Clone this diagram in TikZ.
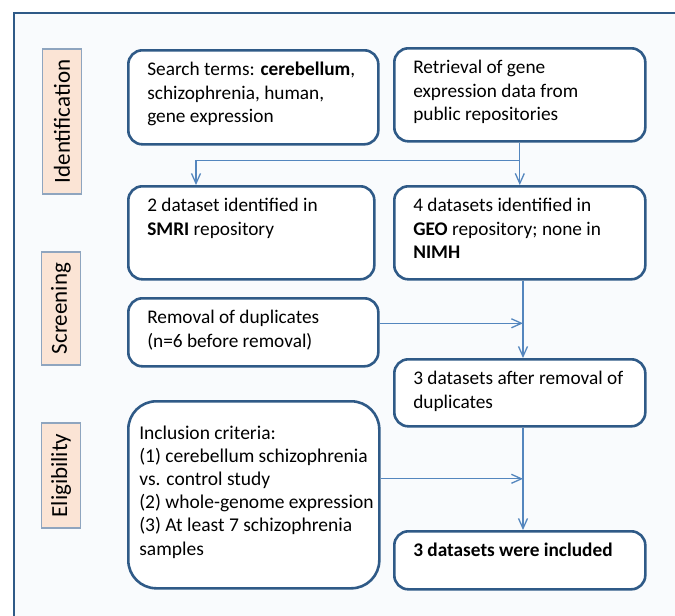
\documentclass[tikz,border=0pt]{standalone}
\usepackage{fontspec}
\setmainfont{Carlito}
\usepackage{tikz}
\usetikzlibrary{arrows.meta,calc,positioning}
\definecolor{boxblue}{RGB}{47,90,135}
\definecolor{linkblue}{RGB}{84,134,190}
\definecolor{tagfill}{RGB}{251,228,213}
\definecolor{tagdraw}{RGB}{143,165,191}
\definecolor{panel}{RGB}{249,251,253}
\newdimen\padx
\newdimen\pady
\padx=19pt
\pady=9pt
\newcommand{\boxtext}[3]{\parbox[t][#2][t]{#1}{\strut#3}}
\tikzstyle{stage}=[
  draw=boxblue,
  fill=white,
  font={\fontsize{19.3}{23.5}\selectfont},
  inner xsep=\padx,
  inner ysep=\pady,
  line width=2.6pt,
  anchor=north west,
  rectangle,
  rounded corners=14pt,
  text=black,
]
\tikzstyle{tag}=[
  draw=tagdraw,
  fill=tagfill,
  font={\fontsize{23}{26}\selectfont},
  inner sep=0pt,
  line width=1.2pt,
  minimum height=39pt,
  rectangle,
  rotate=90,
  text=black,
]
\tikzstyle{link}=[
  color=linkblue,
  line width=1.3pt,
]
\tikzset{
  >={Straight Barb[length=10pt,width=9pt]},
  x=1pt,
  y=-1pt,
}
\begin{document}
\begin{tikzpicture}
      \useasboundingbox (0,0) rectangle (675,616);
      \fill [panel] (14,13) rectangle (675,616);
      \draw [boxblue, line width=2.4pt] (14,616) -- (14,13) -- (675,13);
      % phase tags
      \node (ident) [tag, minimum width=145pt] at (62,121.5) {Identification};
      \node (screen) [tag, minimum width=113pt] at (61,308.5) {Screening};
      \node (elig) [tag, minimum width=105pt] at (61,475.5) {Eligibility};
      % boxes
      \node (search) [stage] at (127,49) {\boxtext{212pt}{76pt}{Search terms: \textbf{cerebellum},\\schizophrenia, human,\\gene expression}};
      \node (retrieve) [stage] at (393,47) {\boxtext{213pt}{75pt}{Retrieval of gene\\expression data from\\public repositories}};
      \node (smri) [stage] at (127,185) {\boxtext{208pt}{75pt}{2 dataset identified in\\\textbf{SMRI} repository}};
      \node (geo) [stage] at (393,185) {\boxtext{213pt}{75pt}{4 datasets identified in\\\textbf{GEO} repository; none in\\\textbf{NIMH}}};
      \node (dup) [stage] at (127,297) {\boxtext{212pt}{50pt}{Removal of duplicates\\(n=6 before removal)}};
      \node (after) [stage] at (393,358) {\boxtext{213pt}{49pt}{3 datasets after removal of\\duplicates}};
      \node (criteria) [stage, font={\fontsize{19.5}{23.2}\selectfont}, inner xsep=11pt, inner ysep=21.5pt, rounded corners=28pt] at (127,400) {\boxtext{229pt}{144pt}{Inclusion criteria:\\\mbox{(1) cerebellum schizophrenia}\\vs. control study\\\mbox{(2) whole-genome expression}\\\mbox{(3) At least 7 schizophrenia}\\samples}};
      \node (incl) [stage] at (393,530) {\boxtext{213pt}{40pt}{\textbf{3 datasets were included}}};
      % connectors
      \coordinate (split) at ($(retrieve.south)+(0,18)$);
      \coordinate (fork) at (196,0);
      \coordinate (trunk) at (523,0);
      \coordinate (dupout) at ($(dup.east)+(0,-9)$);
      \coordinate (critout) at ($(criteria.east)+(0,-16)$);
      \draw [link] (retrieve.south) -- (split);
      \draw [->, link] (split) -- (split -| fork) -- (smri.north -| fork);
      \draw [->, link] (split) -- (geo.north);
      \draw [->, link] (geo.south -| trunk) -- (after.north -| trunk);
      \draw [->, link] (dupout) -- (dupout -| trunk);
      \draw [->, link] (after.south -| trunk) -- (incl.north -| trunk);
      \draw [->, link] (critout) -- (critout -| trunk);
    \end{tikzpicture}
\end{document}
